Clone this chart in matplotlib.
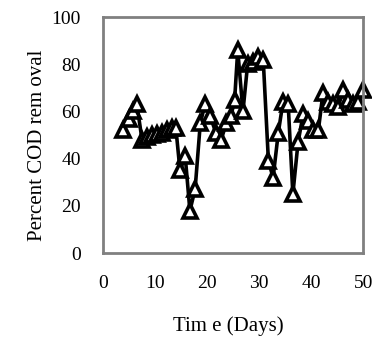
import matplotlib
matplotlib.use("Agg")
import matplotlib.pyplot as plt

days = [3.8, 5.0, 5.8, 6.5, 7.5, 8.5, 9.4, 10.4, 11.3, 12.3, 13.3, 14.0,
        14.8, 15.8, 16.7, 17.7, 18.7, 19.6, 20.6, 21.7, 22.7, 23.7, 24.6,
        25.3, 25.9, 26.9, 27.8, 28.8, 29.7, 30.8, 31.8, 32.7, 33.7, 34.6,
        35.6, 36.5, 37.5, 38.5, 39.4, 40.4, 41.4, 42.3, 43.3, 44.3, 45.2,
        46.2, 47.1, 48.1, 49.0, 49.9]
cod_removal = [52, 57, 60, 63, 48, 49, 50, 50.5, 51, 52, 53, 53,
               35, 41, 18, 27, 55, 63, 58, 51, 48, 55, 58,
               65, 86, 60, 80, 81, 83, 82, 39, 32, 51, 64,
               63, 25, 47, 59, 56, 52, 52, 68, 64, 63, 62,
               69, 65, 63, 64, 69]

x_ticks = [0, 10, 20, 30, 40, 50]
y_ticks = [0, 20, 40, 60, 80, 100]

plt.rcParams['font.family'] = ['Liberation Serif', 'DejaVu Serif']

fig = plt.figure(figsize=(3.72, 3.42), dpi=100)
ax = fig.add_axes([0.277, 0.260, 0.699, 0.690])
ax.plot(days, cod_removal, color='black', linewidth=2.6, marker='^',
        markersize=10, markerfacecolor='white', markeredgecolor='black',
        markeredgewidth=2.6, clip_on=False)
ax.set_xlim(0, 50)
ax.set_ylim(0, 100)
ax.set_xticks(x_ticks)
ax.set_yticks(y_ticks)
ax.tick_params(length=0, labelsize=14)
ax.tick_params(axis='x', pad=16)
ax.tick_params(axis='y', pad=16)
for s in ax.spines.values():
    s.set_color('#808080')
    s.set_linewidth(2)
ax.set_xlabel('Tim e (Days)', fontsize=15, labelpad=17)
ax.set_ylabel('Percent COD rem oval', fontsize=15, labelpad=3)
ax.yaxis.label.set_y(0.455)
ax.xaxis.label.set_x(0.48)
fig.savefig('out.png', dpi=100)
